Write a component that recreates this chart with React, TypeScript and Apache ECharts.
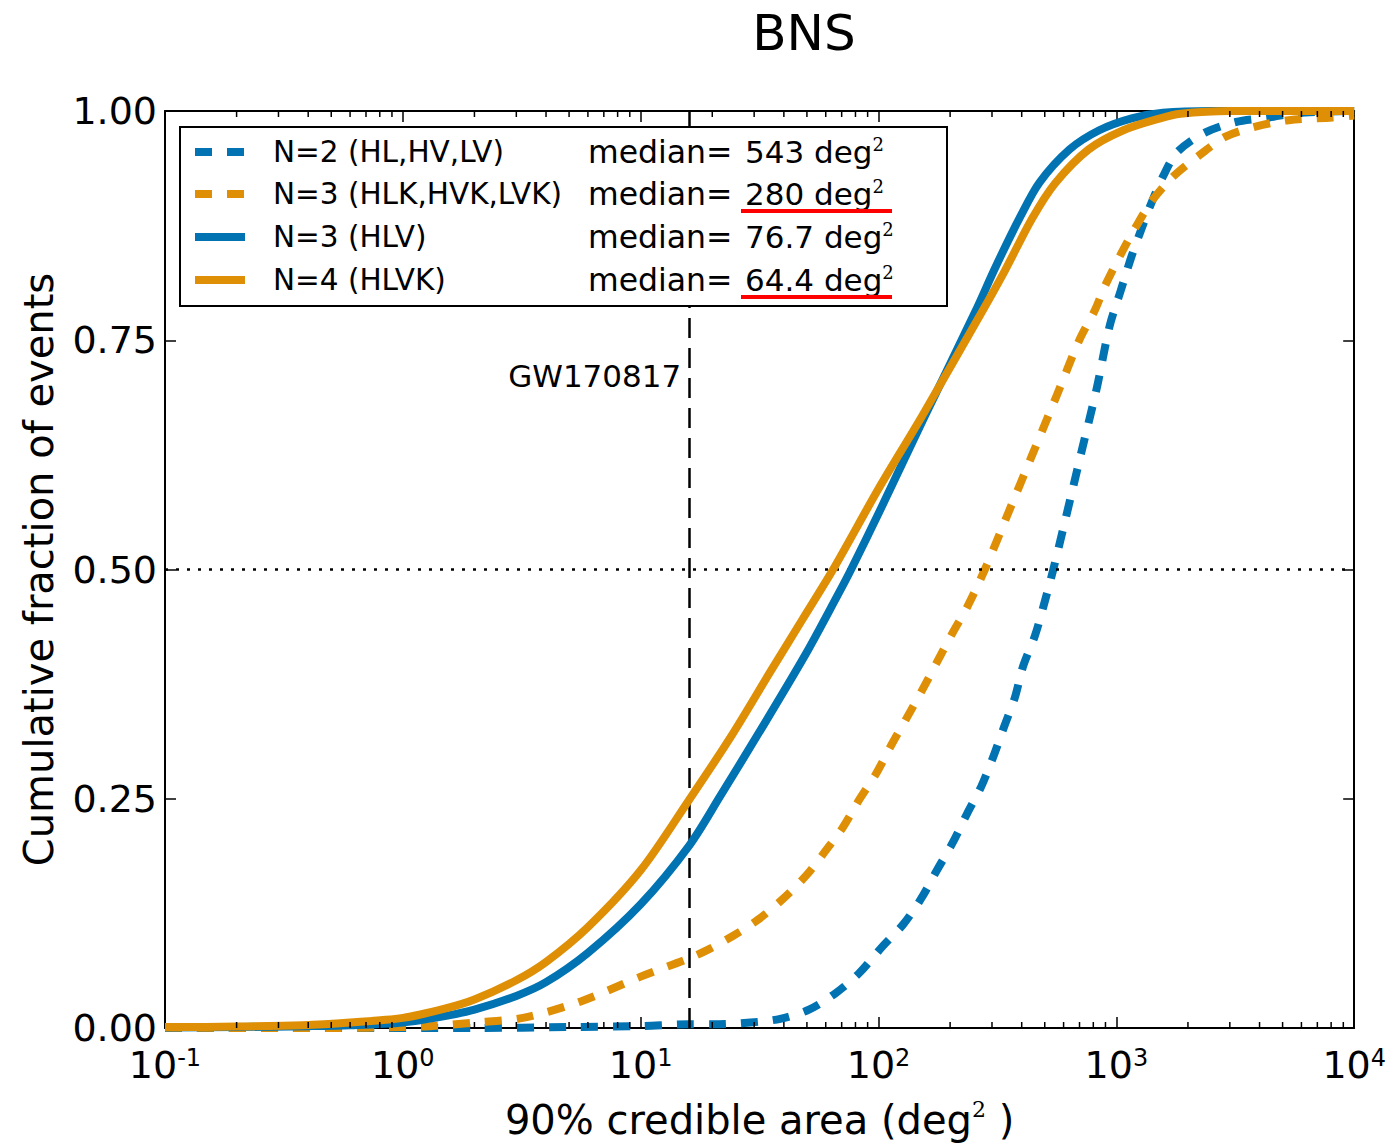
import React, { useEffect, useRef } from 'react';
import * as echarts from 'echarts';

// ---- Data ----
const n2Area = [0.1, 2, 5, 10, 16, 20, 29, 38.6, 51, 66, 83, 104, 127, 151, 176, 204, 236, 270, 303, 339, 374, 406, 455, 494, 543, 650, 716, 826, 938, 1040, 1160, 1270, 1390, 1580, 1800, 2340, 3180, 4400, 5800, 10000];
const n2Frac = [0, 0, 0.001, 0.002, 0.004, 0.004, 0.006, 0.01, 0.02, 0.038, 0.06, 0.089, 0.113, 0.141, 0.172, 0.201, 0.234, 0.263, 0.295, 0.33, 0.36, 0.395, 0.428, 0.46, 0.5, 0.584, 0.63, 0.697, 0.766, 0.803, 0.842, 0.87, 0.897, 0.93, 0.955, 0.976, 0.988, 0.993, 0.998, 1.0];

const n3kArea = [0.1, 0.5, 1.0, 1.3, 2.0, 3.2, 5.6, 10, 16, 19.4, 24.3, 31.1, 39.7, 49.9, 59.4, 70.9, 83, 97.5, 114, 132, 153, 177, 205, 237, 280, 349, 443, 562, 701, 813, 895, 1050, 1210, 1420, 1740, 2240, 2880, 3850, 5300, 8100, 10000];
const n3kFrac = [0, 0, 0.001, 0.002, 0.006, 0.011, 0.029, 0.056, 0.076, 0.086, 0.1, 0.118, 0.141, 0.167, 0.192, 0.219, 0.249, 0.277, 0.31, 0.339, 0.369, 0.4, 0.431, 0.46, 0.5, 0.56, 0.625, 0.69, 0.751, 0.783, 0.809, 0.845, 0.874, 0.903, 0.929, 0.952, 0.972, 0.983, 0.99, 0.993, 0.995];

const hlvArea = [0.1, 0.2, 0.4, 0.6, 1.0, 1.5, 2.0, 3.0, 4.0, 6.0, 10, 16, 21.5, 33.7, 50, 66.4, 76.7, 100, 157, 255, 312, 395, 475, 635, 847, 1160, 1570, 2500, 10000];
const hlvFrac = [0.0005, 0.001, 0.002, 0.003, 0.006, 0.013, 0.02, 0.035, 0.05, 0.082, 0.135, 0.199, 0.252, 0.335, 0.41, 0.469, 0.5, 0.561, 0.668, 0.781, 0.831, 0.885, 0.922, 0.958, 0.979, 0.992, 0.998, 1.0, 1.0];

const hlvkArea = [0.1, 0.2, 0.38, 0.6, 1.0, 1.5, 2.0, 3.0, 4.0, 6.0, 10, 16, 24, 35, 48, 64.4, 100, 153, 275, 340, 443, 552, 764, 1070, 1530, 1860, 3000, 10000];
const hlvkFrac = [0.001, 0.0015, 0.003, 0.006, 0.011, 0.021, 0.031, 0.052, 0.072, 0.11, 0.172, 0.249, 0.318, 0.388, 0.446, 0.5, 0.588, 0.668, 0.783, 0.826, 0.883, 0.921, 0.958, 0.979, 0.992, 0.997, 1.0, 1.0];

const seriesNames = ['N=2 (HL,HV,LV)', 'N=3 (HLK,HVK,LVK)', 'N=3 (HLV)', 'N=4 (HLVK)'];
const medianLabels = ['543', '280', '76.7', '64.4'];
const underlined = [false, true, false, true];

const gwEvent = 'GW170817';
const gwArea = 16;
const gwLabelFrac = 0.711;

const minorMultipliers = [2, 3, 4, 5, 6, 7, 8, 9];
const decades = [0.1, 1, 10, 100, 1000];
const yTicks = [0, 0.25, 0.5, 0.75, 1.0];

const BLUE = '#0173B2';
const ORANGE = '#DE8F05';
const FONT = "'DejaVu Sans', sans-serif";
const SUPFONT = "'DejaVu Serif', 'DejaVu Sans', serif";

const zip = (xs: number[], ys: number[]) => xs.map((x, i) => [x, ys[i]]);

export default function App() {
  const ref = useRef<HTMLDivElement>(null);
  useEffect(() => {
    if (!ref.current) return;
    const chart = echarts.init(ref.current, undefined, { renderer: 'svg' });

    const minorTicks: number[][] = [];
    decades.forEach((d) => minorMultipliers.forEach((m) => minorTicks.push([d * m, 0])));

    const dashed = [17, 15];
    const colors = [BLUE, ORANGE, BLUE, ORANGE];
    const dashes = [true, true, false, false];
    const datasets = [zip(n2Area, n2Frac), zip(n3kArea, n3kFrac), zip(hlvArea, hlvFrac), zip(hlvkArea, hlvkFrac)];

    const lineSeries: any[] = datasets.map((data, i) => ({
      type: 'line',
      name: seriesNames[i],
      data,
      showSymbol: false,
      smooth: 0.3,
      z: 3 + i,
      lineStyle: { color: colors[i], width: 8, type: dashes[i] ? dashed : 'solid', cap: 'butt', join: 'round' },
      itemStyle: { color: colors[i] },
    }));

    lineSeries[0].markLine = {
      silent: true,
      symbol: ['none', 'none'],
      label: { show: false },
      data: [
        { yAxis: 0.5, lineStyle: { color: '#000', width: 2.5, type: [3, 8] } },
        { xAxis: gwArea, lineStyle: { color: '#000', width: 2.5, type: [20, 10] } },
      ],
    };
    lineSeries[0].markPoint = {
      silent: true,
      symbol: 'rect',
      symbolSize: 0,
      data: [{ coord: [gwArea, gwLabelFrac] }],
      label: {
        show: true,
        position: 'left',
        distance: 8,
        formatter: gwEvent,
        color: '#000',
        fontSize: 31,
        fontFamily: FONT,
      },
    };

    const tickSeries = {
      type: 'custom',
      coordinateSystem: 'cartesian2d',
      data: minorTicks,
      encode: { x: 0, y: 1 },
      silent: true,
      clip: false,
      z: 10,
      renderItem: (params: any, api: any) => {
        const v = api.value(0);
        const b = api.coord([v, 0]);
        const t = api.coord([v, 1]);
        const st = { stroke: '#000', lineWidth: 1.5 };
        return {
          type: 'group',
          children: [
            { type: 'line', shape: { x1: b[0], y1: b[1], x2: b[0], y2: b[1] - 6 }, style: st },
            { type: 'line', shape: { x1: t[0], y1: t[1], x2: t[0], y2: t[1] + 6 }, style: st },
          ],
        };
      },
    };

    const legendX = 180, legendY = 127, legendW = 767, legendH = 179;
    const rowY = [152, 194, 237, 280];
    const legendEls: any[] = [
      { type: 'rect', shape: { x: legendX, y: legendY, width: legendW, height: legendH }, style: { fill: '#fff', stroke: '#000', lineWidth: 2 }, z: 100 },
    ];
    seriesNames.forEach((name, i) => {
      legendEls.push({
        type: 'line',
        shape: { x1: 195, y1: rowY[i], x2: 245, y2: rowY[i] },
        style: { stroke: colors[i], lineWidth: 8, lineDash: dashes[i] ? dashed : null },
        z: 101,
      });
      legendEls.push({
        type: 'text',
        x: 273,
        y: rowY[i],
        style: { text: name, fontSize: 29.5, fontFamily: FONT, fill: '#000', verticalAlign: 'middle', align: 'left' },
        z: 101,
      });
      legendEls.push({
        type: 'text',
        x: 588,
        y: rowY[i],
        style: { text: 'median=', fontSize: 31.5, fontFamily: FONT, fill: '#000', verticalAlign: 'middle', align: 'left' },
        z: 101,
      });
      legendEls.push({
        type: 'text',
        x: 745,
        y: rowY[i],
        style: {
          text: `{n|${medianLabels[i]} deg}{s|2}`,
          verticalAlign: 'middle',
          align: 'left',
          rich: {
            n: { fontSize: 31, fontFamily: FONT, fill: '#000', color: '#000', lineHeight: 34 },
            s: { fontSize: 18, fontFamily: SUPFONT, fill: '#000', color: '#000', verticalAlign: 'top', lineHeight: 10 },
          },
        },
        z: 101,
      });
      if (underlined[i]) {
        legendEls.push({
          type: 'line',
          shape: { x1: 741, y1: rowY[i] + 17, x2: 892, y2: rowY[i] + 17 },
          style: { stroke: '#FF0000', lineWidth: 4 },
          z: 102,
        });
      }
    });
    legendEls.push({
      type: 'text',
      x: 804,
      y: 33,
      style: { text: 'BNS', fontSize: 50, fontFamily: FONT, fill: '#000', align: 'center', verticalAlign: 'middle' },
      z: 101,
    });

    const axisLine = { show: true, onZero: false, lineStyle: { color: '#000', width: 2 } };
    const majorTick = { show: true, inside: true, length: 11, lineStyle: { color: '#000', width: 1.5 } };
    const xRich = {
      b: { fontSize: 38, fontFamily: FONT, color: '#000', lineHeight: 38 },
      s: { fontSize: 24, fontFamily: FONT, color: '#000', verticalAlign: 'top', lineHeight: 8 },
    };

    chart.setOption({
      animation: false,
      backgroundColor: '#fff',
      grid: { left: 165, right: 34, top: 111, bottom: 113, containLabel: false },
      xAxis: [
        {
          type: 'log',
          logBase: 10,
          min: 0.1,
          max: 10000,
          position: 'bottom',
          axisLine,
          axisTick: majorTick,
          splitLine: { show: false },
          axisLabel: {
            margin: 18,
            formatter: (v: number) => `{b|10}{s|${Math.round(Math.log10(v))}}`,
            rich: xRich,
          },
          name: '{n|90% credible area (deg}{s|2}{n| )}',
          nameLocation: 'middle',
          nameGap: 70,
          nameTextStyle: {
            rich: {
              n: { fontSize: 40, fontFamily: FONT, color: '#000', lineHeight: 44 },
              s: { fontSize: 22, fontFamily: SUPFONT, color: '#000', verticalAlign: 'top', lineHeight: 14 },
            },
          },
        },
        {
          type: 'log',
          logBase: 10,
          min: 0.1,
          max: 10000,
          position: 'top',
          axisLine,
          axisTick: majorTick,
          splitLine: { show: false },
          axisLabel: { show: false },
        },
      ],
      yAxis: [
        {
          type: 'value',
          min: 0,
          max: 1,
          interval: 0.25,
          position: 'left',
          axisLine,
          axisTick: majorTick,
          splitLine: { show: false },
          axisLabel: {
            margin: 8,
            fontSize: 38,
            lineHeight: 32,
            fontFamily: FONT,
            color: '#000',
            formatter: (v: number) => (yTicks.indexOf(v) >= 0 ? v.toFixed(2) : ''),
          },
          name: 'Cumulative fraction of events',
          nameLocation: 'middle',
          nameGap: 106,
          nameRotate: 90,
          nameTextStyle: { fontSize: 40, fontFamily: FONT, color: '#000' },
        },
        {
          type: 'value',
          min: 0,
          max: 1,
          interval: 0.25,
          position: 'right',
          axisLine,
          axisTick: majorTick,
          splitLine: { show: false },
          axisLabel: { show: false },
        },
      ],
      series: [...lineSeries, tickSeries],
      graphic: { elements: legendEls },
    });

    return () => chart.dispose();
  }, []);

  return (
    <div
      ref={ref}
      style={{ position: 'absolute', left: 0, top: 0, width: 1389, height: 1145, background: '#fff' }}
    />
  );
}
